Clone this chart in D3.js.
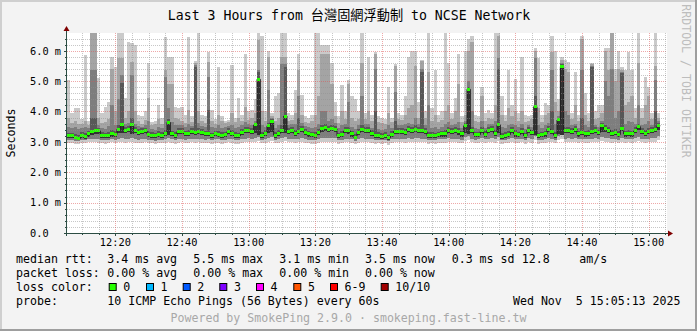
<!DOCTYPE html>
<html><head><meta charset="utf-8">
<script src="https://cdn.jsdelivr.net/npm/d3@7"></script>
<style>body{margin:0;background:#f3f3f3;overflow:hidden}text{font-family:"DejaVu Sans Mono","Noto Sans CJK TC",monospace}</style>
</head><body><svg id="c" width="697" height="331"></svg>
<script>
// ---- data (one value per 60 s step, 12:05:30 .. 15:03:30) ----
const startTime = new Date(2025, 10, 5, 12, 5, 30);
const stepMinutes = 1;
const median = [3.22,3.20,3.15,3.11,3.22,3.18,3.26,3.34,3.36,3.36,3.22,3.20,3.20,3.26,3.24,3.42,3.56,3.39,3.42,3.58,3.39,3.32,3.34,3.37,3.25,3.22,3.20,3.24,3.22,3.28,3.64,3.26,3.20,3.34,3.34,3.26,3.28,3.34,3.31,3.34,3.31,3.26,3.26,3.20,3.26,
3.25,3.22,3.24,3.34,3.28,3.22,3.20,3.31,3.37,3.38,3.34,3.56,5.06,3.22,3.28,3.53,3.67,3.22,3.28,3.39,3.85,3.34,3.37,3.28,3.35,3.42,3.31,3.26,3.24,3.22,3.31,3.44,3.46,3.42,3.45,3.42,3.20,3.24,3.37,3.36,3.26,3.15,3.31,3.42,3.39,
3.37,3.28,3.20,3.22,3.18,3.22,3.13,3.25,3.34,3.34,3.34,3.31,3.42,3.39,3.42,3.39,3.37,3.34,3.20,3.22,3.20,3.23,3.26,3.26,3.39,3.35,3.37,3.33,3.26,3.53,4.73,3.37,3.24,3.24,3.39,3.25,3.39,3.42,3.28,3.56,3.18,3.22,3.24,3.39,3.26,
3.24,3.34,3.20,3.39,3.30,4.16,3.20,3.23,3.26,3.42,3.34,3.22,3.72,5.48,3.37,3.39,3.34,3.42,3.26,3.31,3.26,3.28,3.34,3.37,3.31,3.53,3.44,3.39,3.28,3.31,3.24,3.45,3.26,3.28,3.26,3.37,3.50,3.34,3.28,3.34,3.39,3.42,3.53];
const pingMax = [5.05,3.95,4.10,4.10,3.75,5.85,3.70,6.70,6.70,5.10,3.95,4.15,4.30,5.80,5.45,6.70,6.70,4.45,6.30,6.24,6.20,3.90,3.85,4.00,5.60,3.65,3.70,4.20,3.80,6.45,5.80,5.80,4.15,4.10,4.15,3.90,6.45,3.85,5.65,6.60,3.90,3.85,5.97,4.05,3.75,
5.45,3.85,3.70,3.72,5.53,3.80,4.45,3.90,5.90,4.00,4.05,4.40,6.70,6.50,4.00,6.00,3.95,4.50,4.60,6.70,6.70,3.95,3.90,4.70,5.90,4.55,3.85,3.80,3.90,6.70,6.70,6.20,6.20,6.20,5.60,4.30,3.85,4.87,4.00,5.05,4.50,4.40,4.00,6.70,3.95,
5.80,3.90,5.95,3.85,3.80,3.75,4.82,3.80,5.55,3.95,3.90,4.50,5.80,6.00,6.00,4.30,5.70,4.00,6.70,4.10,5.37,3.90,4.00,6.70,5.60,3.95,4.45,5.90,3.85,6.00,6.40,6.50,3.90,3.85,4.82,3.95,4.05,3.95,6.60,6.60,4.50,3.90,5.37,4.20,5.06,
3.95,5.80,3.90,3.85,3.90,6.10,5.75,3.90,4.27,4.20,6.50,6.00,4.40,5.80,5.70,5.64,3.95,5.30,3.90,6.50,4.60,3.95,5.60,4.00,4.20,4.20,6.08,6.10,6.60,5.40,6.00,5.45,5.37,5.97,5.37,4.10,6.60,4.10,5.15,4.80,3.95,6.60,3.95];
const ping9 = [3.78,3.62,3.70,3.58,3.60,3.70,3.55,6.70,6.70,3.80,3.62,3.65,3.75,5.40,4.00,5.75,5.75,3.80,4.00,5.64,4.00,3.70,3.60,3.72,4.45,3.55,3.58,3.75,3.60,5.37,4.90,4.90,3.80,3.75,3.70,3.62,4.05,3.65,5.58,4.00,3.68,3.62,5.64,3.70,3.60,
3.90,3.70,3.62,3.65,3.95,3.65,3.80,3.70,4.15,3.72,3.78,3.95,6.35,4.00,3.70,5.80,3.85,3.70,3.80,5.80,5.80,3.70,3.72,3.95,5.37,3.90,3.65,3.62,3.68,3.90,4.50,5.90,5.90,5.90,4.90,3.85,3.62,4.00,3.75,4.90,3.80,3.70,3.75,5.58,3.75,
4.00,3.70,5.90,3.65,3.62,3.60,3.95,3.65,5.50,3.75,3.72,3.90,4.10,4.20,5.50,3.80,5.65,3.78,5.30,3.70,3.90,3.65,3.72,4.00,4.20,3.75,4.00,4.90,3.65,3.90,6.00,6.30,3.68,3.65,4.50,3.70,3.80,3.75,4.20,6.50,3.90,3.70,4.10,3.85,4.00,
3.70,4.00,3.65,3.70,3.75,6.00,4.10,3.65,3.90,3.95,5.95,4.30,4.00,5.70,5.40,5.30,3.75,4.20,3.70,6.40,3.90,3.70,5.55,3.75,3.80,3.95,6.00,5.37,6.60,5.00,5.40,5.35,4.20,4.30,4.50,3.80,5.58,3.80,4.20,4.50,3.75,5.50,3.80];
const ping8 = [3.50,3.45,3.48,3.42,3.46,3.50,3.44,5.37,5.37,3.55,3.46,3.42,3.52,4.20,3.55,4.40,5.20,3.60,3.62,5.20,3.58,3.52,3.50,3.55,3.70,3.42,3.40,3.50,3.45,5.15,4.10,3.65,3.55,3.56,3.55,3.48,3.60,3.52,5.52,3.62,3.52,3.48,5.15,3.50,3.45,
3.55,3.45,3.48,3.52,3.55,3.45,3.50,3.55,3.65,3.58,3.55,3.70,5.35,3.55,3.50,4.70,3.80,3.45,3.55,5.55,5.55,3.55,3.58,3.60,4.50,3.62,3.52,3.48,3.45,3.50,3.60,4.00,4.00,3.70,3.75,3.62,3.45,3.55,3.58,4.30,3.50,3.42,3.55,4.50,3.58,
3.60,3.45,5.40,3.42,3.40,3.42,3.55,3.45,4.65,3.55,3.55,3.60,3.62,3.60,3.80,3.58,5.40,3.55,4.20,3.45,3.50,3.42,3.48,3.60,3.65,3.55,3.58,3.65,3.45,3.70,5.00,4.00,3.45,3.42,3.70,3.45,3.58,3.60,3.70,5.75,3.50,3.45,3.55,3.60,3.55,
3.48,3.60,3.42,3.55,3.50,5.75,3.55,3.45,3.55,3.62,5.35,3.60,3.85,5.60,4.00,3.90,3.55,3.60,3.45,5.35,3.55,3.48,5.50,3.55,3.50,3.70,5.00,4.50,5.40,3.80,4.00,5.30,3.60,3.70,3.65,3.58,4.20,3.55,3.60,3.70,3.55,5.04,3.70];
const ping7 = [3.30,3.30,3.26,3.22,3.32,3.28,3.36,3.78,3.78,3.46,3.32,3.30,3.32,3.38,3.36,3.55,4.95,3.50,3.52,3.80,3.48,3.42,3.44,3.47,3.36,3.32,3.30,3.36,3.32,3.40,3.75,3.36,3.32,3.44,3.44,3.36,3.40,3.44,5.45,3.46,3.42,3.36,4.05,3.30,3.36,
3.35,3.32,3.34,3.44,3.38,3.32,3.30,3.42,3.48,3.48,3.45,3.62,5.30,3.34,3.38,3.62,3.75,3.32,3.40,3.55,5.45,3.44,3.48,3.40,3.80,3.52,3.42,3.36,3.34,3.32,3.42,3.55,3.58,3.52,3.56,3.52,3.30,3.36,3.48,3.48,3.36,3.26,3.42,3.55,3.50,
3.48,3.38,4.00,3.32,3.28,3.32,3.24,3.35,3.70,3.45,3.45,3.42,3.52,3.50,3.55,3.50,5.30,3.45,3.32,3.32,3.30,3.33,3.36,3.38,3.50,3.45,3.48,3.44,3.36,3.62,4.80,3.48,3.34,3.34,3.50,3.36,3.50,3.52,3.40,5.40,3.30,3.32,3.36,3.50,3.38,
3.34,3.44,3.30,3.48,3.40,4.50,3.30,3.34,3.36,3.52,4.00,3.32,3.80,5.55,3.48,3.50,3.45,3.52,3.36,3.80,3.36,3.38,5.45,3.48,3.40,3.62,3.55,3.50,3.40,3.42,3.35,5.25,3.36,3.38,3.36,3.48,3.60,3.44,3.38,3.45,3.50,4.00,3.62];
const pingMid = [3.14,3.12,3.08,3.05,3.13,3.10,3.17,3.24,3.27,3.27,3.14,3.12,3.12,3.17,3.16,3.30,3.28,3.29,3.32,3.26,3.30,3.23,3.25,3.28,3.17,3.14,3.12,3.16,3.14,3.19,3.24,3.18,3.12,3.25,3.25,3.18,3.19,3.25,3.22,3.25,3.22,3.18,3.18,3.12,3.18,
3.17,3.14,3.16,3.25,3.19,3.14,3.12,3.22,3.28,3.29,3.25,3.30,3.24,3.14,3.19,3.30,3.32,3.14,3.19,3.30,3.28,3.25,3.28,3.19,3.26,3.32,3.22,3.17,3.16,3.14,3.22,3.34,3.36,3.32,3.35,3.32,3.12,3.16,3.28,3.27,3.17,3.08,3.22,3.32,3.30,
3.28,3.19,3.12,3.14,3.10,3.14,3.06,3.17,3.25,3.25,3.25,3.22,3.32,3.30,3.32,3.30,3.28,3.25,3.12,3.14,3.12,3.15,3.17,3.17,3.30,3.26,3.28,3.24,3.17,3.30,3.26,3.28,3.16,3.16,3.30,3.17,3.30,3.32,3.19,3.28,3.10,3.14,3.16,3.30,3.17,
3.16,3.25,3.12,3.30,3.21,3.24,3.12,3.15,3.17,3.32,3.25,3.14,3.26,3.22,3.28,3.30,3.25,3.32,3.17,3.22,3.17,3.19,3.25,3.28,3.22,3.32,3.34,3.30,3.19,3.22,3.16,3.35,3.17,3.19,3.17,3.28,3.38,3.25,3.19,3.25,3.30,3.32,3.40];
const pingLow = [3.07,3.05,3.04,3.03,3.07,3.06,3.09,3.10,3.11,3.08,3.06,3.05,3.07,3.09,3.07,3.11,3.13,3.09,3.10,3.12,3.09,3.07,3.08,3.10,3.07,3.06,3.04,3.07,3.06,3.09,3.12,3.08,3.05,3.09,3.10,3.07,3.09,3.11,3.08,3.10,3.09,3.07,3.08,3.05,3.08,
3.08,3.06,3.07,3.10,3.09,3.06,3.05,3.09,3.11,3.12,3.10,3.14,3.16,3.07,3.08,3.12,3.15,3.07,3.09,3.12,3.15,3.10,3.11,3.09,3.10,3.12,3.09,3.07,3.06,3.05,3.08,3.12,3.14,3.12,3.13,3.12,3.05,3.07,3.10,3.11,3.08,3.03,3.09,3.12,3.11,
3.11,3.09,3.06,3.07,3.05,3.07,3.02,3.08,3.10,3.11,3.10,3.09,3.13,3.11,3.13,3.12,3.11,3.10,3.06,3.07,3.05,3.08,3.09,3.08,3.12,3.10,3.11,3.09,3.07,3.15,3.18,3.11,3.07,3.08,3.12,3.08,3.11,3.13,3.09,3.16,3.05,3.07,3.08,3.12,3.09,
3.08,3.11,3.06,3.12,3.09,3.18,3.06,3.07,3.09,3.14,3.11,3.07,3.20,3.22,3.11,3.12,3.10,3.14,3.09,3.10,3.08,3.09,3.11,3.12,3.10,3.16,3.14,3.12,3.09,3.10,3.07,3.14,3.09,3.10,3.09,3.12,3.16,3.11,3.09,3.11,3.12,3.14,3.18];
const pingMin = [2.97,2.95,2.94,2.93,2.97,2.96,2.98,2.99,3.00,2.97,2.95,2.94,2.97,2.98,2.96,2.99,3.01,2.97,2.98,3.00,2.97,2.95,2.97,2.99,2.96,2.95,2.93,2.96,2.95,2.97,2.99,2.96,2.94,2.97,2.98,2.95,2.97,2.99,2.96,2.98,2.97,2.95,2.96,2.94,2.97,
2.96,2.94,2.95,2.98,2.97,2.94,2.93,2.97,2.99,3.00,2.98,3.01,3.03,2.95,2.96,2.99,3.02,2.95,2.97,2.99,3.02,2.98,2.99,2.97,2.98,3.00,2.97,2.95,2.94,2.93,2.96,2.99,3.01,3.00,3.01,2.99,2.93,2.95,2.98,2.99,2.96,2.92,2.97,3.00,2.99,
2.99,2.97,2.94,2.95,2.93,2.95,2.91,2.96,2.98,2.99,2.98,2.97,3.00,2.99,3.01,3.00,2.99,2.98,2.94,2.95,2.93,2.96,2.97,2.96,3.00,2.98,2.99,2.97,2.95,3.02,3.05,2.99,2.95,2.96,3.00,2.96,2.99,3.01,2.97,3.03,2.93,2.95,2.96,3.00,2.97,
2.96,2.99,2.94,3.00,2.97,3.05,2.94,2.95,2.97,3.01,2.99,2.95,3.07,3.11,2.99,3.00,2.98,3.01,2.97,2.98,2.96,2.97,2.99,3.00,2.98,3.03,3.01,3.00,2.97,2.98,2.95,3.01,2.97,2.98,2.97,3.00,3.03,2.99,2.97,2.99,3.00,3.01,3.05];

const yTickValues = [0, 1, 2, 3, 4, 5, 6];
const yTickLabels = ["0.0", "1.0 m", "2.0 m", "3.0 m", "4.0 m", "5.0 m", "6.0 m"];
const xTickLabels = ["12:20","12:40","13:00","13:20","13:40","14:00","14:20","14:40","15:00"];
const lossLabels = ["0","1","2","3","4","5","6-9","10/10"];
const lossColors = ["#26ff00","#00b8ff","#0059ff","#7e00ff","#ff00ff","#ff5500","#ff0000","#a10000"];
const smokeShades = ["#cacaca","#a4a4a4","#7e7e7e","#585858","#323232"];

// ---- layout ----
const W = 697, H = 331;
const L = 67, R = 667, T = 33, B = 233;
const svg = d3.select("#c");
const endTime = new Date(startTime.getTime() + 180 * 60000);
const x = d3.scaleTime().domain([startTime, endTime]).range([L, R]);
const y = d3.scaleLinear().domain([0, 6.583]).range([B, T]);
const n = median.length;
const tAt = i => new Date(startTime.getTime() + i * stepMinutes * 60000);

svg.append("rect").attr("width", W).attr("height", H).attr("fill", "#f3f3f3");
svg.append("rect").attr("x",0).attr("y",0).attr("width",W).attr("height",2).attr("fill","#cfcfcf");
svg.append("rect").attr("x",0).attr("y",0).attr("width",2).attr("height",H).attr("fill","#cfcfcf");
svg.append("rect").attr("x",0).attr("y",H-2).attr("width",W).attr("height",2).attr("fill","#9e9e9e");
svg.append("rect").attr("x",W-2).attr("y",0).attr("width",2).attr("height",H).attr("fill","#9e9e9e");

svg.append("defs").append("clipPath").attr("id","cp").append("rect")
  .attr("x", L).attr("y", T).attr("width", R - L).attr("height", B - T);
svg.append("rect").attr("x", L).attr("y", T).attr("width", R - L).attr("height", B - T).attr("fill", "#ffffff");

const g = svg.append("g").attr("clip-path", "url(#cp)");
const idx = d3.range(n + 1);
const at = (arr, i) => arr[Math.min(i, n - 1)];
function band(lo, hi, col) {
  const a = d3.area().curve(d3.curveStepAfter)
    .x(i => x(tAt(i))).y0(i => y(at(lo, i))).y1(i => y(at(hi, i)));
  g.append("path").attr("d", a(idx)).attr("fill", col).attr("shape-rendering", "crispEdges");
}
band(pingMin, pingMax, smokeShades[0]);
band(pingLow, ping9, smokeShades[1]);
band(pingLow, ping8, smokeShades[2]);
band(pingMid, ping7, smokeShades[3]);
band(pingMid, median, smokeShades[4]);

// median dark line
g.append("path")
  .attr("d", d3.line().curve(d3.curveStepAfter).x(i => x(tAt(i))).y(i => y(at(median, i)))(idx))
  .attr("fill", "none").attr("stroke", "#202020").attr("stroke-width", 1);
// median green (loss 0)
g.append("path")
  .attr("d", d3.area().curve(d3.curveStepAfter).x(i => x(tAt(i)))
    .y0(i => y(at(median, i)) + 1.5).y1(i => y(at(median, i)) - 1.5)(idx))
  .attr("fill", lossColors[0]).attr("shape-rendering", "crispEdges");

// ---- grid ----
const grid = svg.append("g");
const minorY = d3.range(0, 6.59, 0.2).filter(v => Math.abs(v - Math.round(v)) > 0.01);
minorY.forEach(v => {
  const yy = Math.round(y(v)) + 0.5;
  grid.append("line").attr("x1", L).attr("x2", R).attr("y1", yy).attr("y2", yy)
    .attr("stroke", "rgba(143,143,143,0.5)").attr("stroke-dasharray", "1,1");
  grid.append("line").attr("x1", L - 2).attr("x2", L).attr("y1", yy).attr("y2", yy).attr("stroke", "#2c4d43");
});
yTickValues.forEach(v => {
  const yy = Math.round(y(v)) + 0.5;
  if (v > 0) grid.append("line").attr("x1", L).attr("x2", R).attr("y1", yy).attr("y2", yy)
    .attr("stroke", "rgba(222,81,81,0.5)").attr("stroke-dasharray", "1,1");
  grid.append("line").attr("x1", L - 3).attr("x2", L).attr("y1", yy).attr("y2", yy).attr("stroke", "#2c4d43");
});
const fiveMin = d3.timeMinute.every(5).range(startTime, endTime);
fiveMin.forEach(t => {
  const xx = Math.round(x(t)) + 0.5;
  const major = t.getMinutes() % 20 === 0;
  grid.append("line").attr("x1", xx).attr("x2", xx).attr("y1", T).attr("y2", B)
    .attr("stroke", major ? "rgba(222,81,81,0.5)" : "rgba(143,143,143,0.5)").attr("stroke-dasharray", "1,1");
  grid.append("line").attr("x1", xx).attr("x2", xx).attr("y1", B).attr("y2", B + (major ? 3 : 2)).attr("stroke", "#2c4d43");
});

// ---- axes ----
svg.append("line").attr("x1", L - 3).attr("x2", 669).attr("y1", B + 0.5).attr("y2", B + 0.5).attr("stroke", "#2c4d43");
svg.append("line").attr("x1", L - 0.5).attr("x2", L - 0.5).attr("y1", B + 3).attr("y2", 30).attr("stroke", "#2c4d43");
svg.append("path").attr("d", `M${L-3.5},31 L${L+2.5},31 L${L-0.5},26 Z`).attr("fill", "#7f0000");
svg.append("path").attr("d", `M668,${B-2.5} L668,${B+3.5} L673,${B+0.5} Z`).attr("fill", "#7f0000");

const majorTimes = fiveMin.filter(t => t.getMinutes() % 20 === 0);
const fmt = d3.timeFormat("%H:%M");
majorTimes.forEach((t, k) => {
  svg.append("text").attr("x", x(t)).attr("y", 246).attr("text-anchor", "middle")
    .attr("font-size", "10.3px").attr("fill", "#000").text(xTickLabels[k] || fmt(t));
});
yTickValues.forEach((v, k) => {
  svg.append("text").attr("x", 30).attr("y", y(v) + 3.8)
    .attr("font-size", "10.3px").attr("fill", "#000").text(yTickLabels[k]);
});

// ---- titles ----
svg.append("text").attr("x", 349).attr("y", 19.5).attr("text-anchor", "middle")
  .attr("font-size", "13.2px").attr("fill", "#000").text("Last 3 Hours from 台灣固網浮動制 to NCSE Network");
svg.append("text").attr("transform", "translate(15,133) rotate(-90)").attr("text-anchor", "middle")
  .attr("font-size", "11.6px").attr("fill", "#000").text("Seconds");
svg.append("text").attr("transform", "translate(681.5,81) rotate(90)").attr("text-anchor", "middle")
  .attr("font-size", "11.6px").attr("fill", "#bdbdbd").text("RRDTOOL / TOBI OETIKER");

// ---- legend ----
const fs = "11.6px";
function txt(xx, yy, s, col) {
  svg.append("text").attr("x", xx).attr("y", yy).attr("font-size", fs).attr("fill", col || "#000")
    .attr("xml:space", "preserve").style("white-space", "pre").text(s);
}
const rttItems = [["median rtt:",16],["3.4 ms avg",107.3],["5.5 ms max",193.3],["3.1 ms min",279.3],["3.5 ms now",365],["0.3 ms sd",451.7],["12.8",521.7],["am/s",579.3]];
rttItems.forEach(([s, xx]) => txt(xx, 263, s));
const lossItems = [["packet loss:",16],["0.00 % avg",107.3],["0.00 % max",193.3],["0.00 % min",279.3],["0.00 % now",365]];
lossItems.forEach(([s, xx]) => txt(xx, 277, s));
txt(16, 291, "loss color:");
const boxX = [108.7,146,182.7,219.3,256,293.3,330,380.7];
lossLabels.forEach((s, k) => {
  svg.append("rect").attr("x", boxX[k] + 0.5).attr("y", 283.5).attr("width", 7).attr("height", 7)
    .attr("fill", lossColors[k]).attr("stroke", "#000").attr("stroke-width", 1);
  txt(boxX[k] + 14.6, 291, s);
});
txt(16, 305, "probe:");
txt(107.3, 305, "10 ICMP Echo Pings (56 Bytes) every 60s");
txt(680.5, 305, "Wed Nov  5 15:05:13 2025");
svg.selectAll("text").filter(function(){return d3.select(this).text()==="Wed Nov  5 15:05:13 2025";}).attr("text-anchor","end");
svg.append("text").attr("x", 348.5).attr("y", 321.5).attr("text-anchor", "middle").attr("font-size", fs)
  .attr("fill", "#a8a8a8").text("Powered by SmokePing 2.9.0 · smokeping.fast-line.tw");
</script>
</body></html>
